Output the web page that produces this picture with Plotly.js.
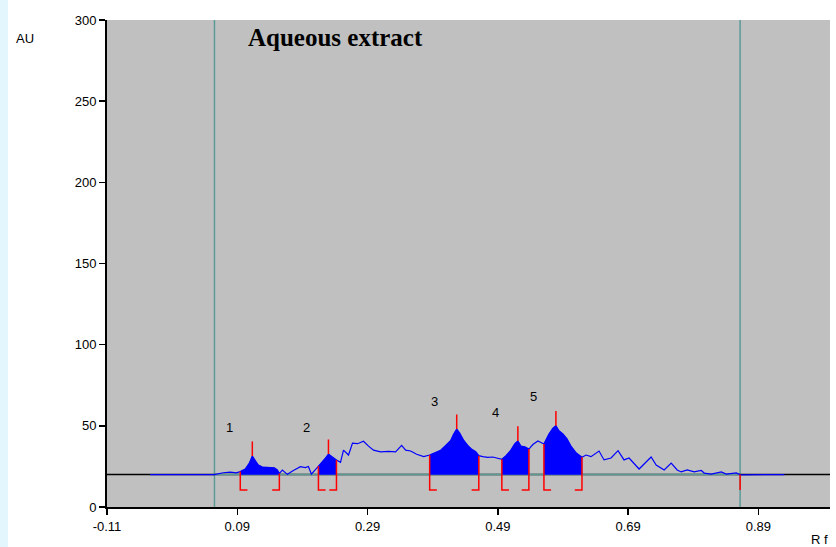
<!DOCTYPE html>
<html>
<head>
<meta charset="utf-8">
<script src="https://cdn.plot.ly/plotly-3.0.1.min.js"></script>
<style>html,body{margin:0;padding:0;background:#fff;}#chart{width:836px;height:547px;}</style>
</head>
<body>
<div id="chart"></div>
<script>
// Densitogram signal (Rf, AU)
const rf = [-0.0438,0.0546,0.0685,0.0792,0.0885,0.0946,0.1023,0.1085,0.1131,0.1177,0.1223,0.1285,0.1377,0.1469,0.1515,0.1546,
  0.1592,0.1669,0.1762,0.1869,0.1946,0.1992,0.2038,0.2100,0.2146,0.2208,0.2254,0.2300,0.2362,0.2423,0.2485,0.2531,0.2608,0.2669,
  0.2746,0.2838,0.2915,0.2992,0.3100,0.3223,0.3331,0.3423,0.3485,0.3562,0.3654,0.3762,0.3854,0.3946,0.4023,0.4100,0.4177,0.4223,
  0.4269,0.4315,0.4377,0.4438,0.4500,0.4562,0.4608,0.4669,0.4746,0.4823,0.4900,0.4962,0.5023,0.5100,0.5162,0.5208,0.5254,0.5315,
  0.5377,0.5438,0.5515,0.5562,0.5608,0.5685,0.5746,0.5792,0.5838,0.5900,0.5962,0.6023,0.6100,0.6192,0.6254,0.6331,0.6408,0.6454,
  0.6531,0.6638,0.6746,0.6838,0.6915,0.6992,0.7069,0.7177,0.7254,0.7331,0.7454,0.7562,0.7654,0.7715,0.7808,0.7915,0.8023,0.8069,
  0.8177,0.8331,0.8408,0.8562,0.8623,0.930];
const au = [20,20,21.1,21.5,21,21.8,23.4,27,31.4,28.3,25.9,24.6,24.3,24.1,22.8,20.6,
  22.8,20.1,22.5,24.8,24.3,25,20.3,23,25.3,28,30,32.6,30.5,29,27.5,35,32,39.4,
  39,40.5,37.5,35,34,34.3,34,38,35,34.5,32.5,31,32,33.5,35,38,41,45,
  48,45.5,41,38,35.5,34,31.6,31,30.6,30.8,29.8,29.4,31.5,35,39,40.7,37.5,37,
  35.7,38.5,40.7,39.5,38.8,45,48.5,50.1,47,45,42,37.5,33.5,30.6,32,31,33.4,34.5,
  29,30.2,34.7,29,30.2,27,23.4,27.7,30.8,25.9,22.8,27,22.8,21.6,22.8,21.6,22.5,20.9,
  20.3,21.6,20.3,21,19.8,20];

// Integrated peaks
const peakLabels = ["1","2","3","4","5"];
const peakStart = [0.0946,0.2146,0.3854,0.4962,0.5608];
const peakEnd   = [0.1546,0.2423,0.4608,0.5377,0.6192];
const peakApex  = [0.1131,0.2300,0.4269,0.5208,0.5792];
const labelRf   = [0.078,0.196,0.393,0.487,0.545];
const labelAU   = [49,49,65,58,68];

const baseline = 20;
const trackStart = 0.055, trackEnd = 0.862;

function valAt(x){
  for(let i=0;i<rf.length-1;i++){
    if(x>=rf[i]-1e-9 && x<=rf[i+1]+1e-9){
      const t=(x-rf[i])/(rf[i+1]-rf[i]); return au[i]+t*(au[i+1]-au[i]);
    }
  }
  return baseline;
}

const traces = [];
traces.push({x:[-0.11,1.0],y:[baseline,baseline],mode:'lines',line:{color:'#000',width:1.5},hoverinfo:'skip'});
traces.push({x:[trackStart,trackEnd],y:[baseline,baseline],mode:'lines',line:{color:'#5b9a97',width:1.5},hoverinfo:'skip'});
for(let k=0;k<peakStart.length;k++){
  const xs=[peakStart[k]], ys=[valAt(peakStart[k])];
  rf.forEach((x,i)=>{ if(x>peakStart[k]+1e-6 && x<peakEnd[k]-1e-6){xs.push(x);ys.push(au[i]);} });
  xs.push(peakEnd[k]); ys.push(valAt(peakEnd[k]));
  xs.push(peakEnd[k],peakStart[k]); ys.push(baseline,baseline);
  traces.push({x:xs,y:ys,mode:'lines',fill:'toself',fillcolor:'#0000ff',line:{color:'#0000ff',width:0.5},hoverinfo:'skip'});
}
traces.push({x:rf,y:au,mode:'lines',line:{color:'#0000ff',width:1.2},hoverinfo:'skip'});
const foot = 0.011, footY = 10.5, tickH = 9;
const rx=[], ry=[];
for(let k=0;k<peakStart.length;k++){
  const s=peakStart[k], e=peakEnd[k], a=peakApex[k];
  rx.push(s+foot,s,s,null, e-foot,e,e,null, a,a,null);
  ry.push(footY,footY,valAt(s),null, footY,footY,valAt(e),null, valAt(a),valAt(a)+tickH,null);
}
rx.push(trackEnd,trackEnd,null); ry.push(baseline,footY,null);
traces.push({x:rx,y:ry,mode:'lines',line:{color:'#ff0000',width:1.5},hoverinfo:'skip',connectgaps:false});

const annotations = peakLabels.map((t,i)=>({x:labelRf[i],y:labelAU[i],text:t,showarrow:false,
  font:{family:'Liberation Sans, Arial',size:13,color:'#000'}}));
annotations.push({x:0.104,y:289,xanchor:'left',yanchor:'middle',text:'<b>Aqueous extract</b>',showarrow:false,
  font:{family:'Liberation Serif, Times New Roman',size:25,color:'#000'}});
annotations.push({xref:'paper',yref:'paper',x:(14-107)/723,y:(507-38)/487,xanchor:'left',yanchor:'middle',text:'AU',showarrow:false,
  font:{family:'Liberation Sans, Arial',size:13,color:'#000'}});
annotations.push({xref:'paper',yref:'paper',x:(830-107)/723,y:(507-539)/487,xanchor:'right',yanchor:'middle',text:'R f',showarrow:false,
  font:{family:'Liberation Sans, Arial',size:13,color:'#000'}});

const xt = [-0.11,0.09,0.29,0.49,0.69,0.89];
const layout = {
  width:836,height:547,
  margin:{l:107,r:6,t:20,b:40},
  paper_bgcolor:'#ffffff',plot_bgcolor:'#c0c0c0',
  showlegend:false,
  xaxis:{range:[-0.11,1.0],tickvals:xt,ticktext:xt.map(v=>v.toFixed(2)),showgrid:false,zeroline:false,
    showline:true,linecolor:'#000',linewidth:2,ticks:'outside',ticklen:6,tickwidth:1.5,tickcolor:'#000',
    tickfont:{family:'Liberation Sans, Arial',size:13,color:'#000'}},
  yaxis:{range:[0,300],dtick:50,showgrid:false,zeroline:false,
    showline:true,linecolor:'#000',linewidth:2,ticks:'outside',ticklen:6,tickwidth:1.5,tickcolor:'#000',
    tickfont:{family:'Liberation Sans, Arial',size:13,color:'#000'}},
  shapes:[
    {type:'line',xref:'x',yref:'paper',x0:trackStart,x1:trackStart,y0:0,y1:1,line:{color:'#5b9a97',width:1.5},layer:'below'},
    {type:'line',xref:'x',yref:'paper',x0:trackEnd,x1:trackEnd,y0:0,y1:1,line:{color:'#5b9a97',width:1.5},layer:'below'},
    {type:'rect',xref:'paper',yref:'paper',x0:-107/723,x1:(8-107)/723,y0:-40/487,y1:527/487,fillcolor:'#e4f6fd',line:{width:0},layer:'below'}
  ],
  annotations:annotations
};
Plotly.newPlot('chart',traces,layout,{displayModeBar:false,staticPlot:true});
</script>
</body>
</html>
